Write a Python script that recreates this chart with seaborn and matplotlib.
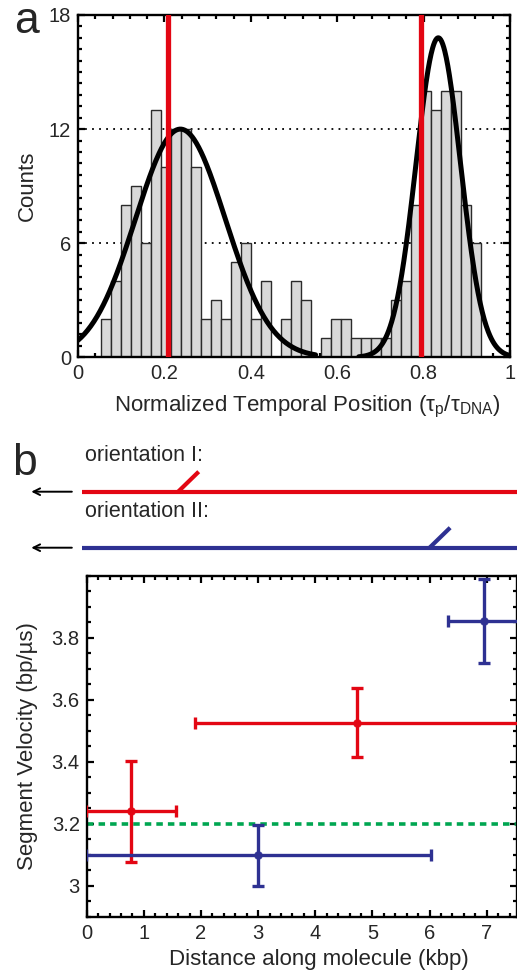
import numpy as np
import pandas as pd
import seaborn as sns
import matplotlib
matplotlib.use("Agg")
import matplotlib.pyplot as plt
from matplotlib.ticker import MultipleLocator

# --- Panel a: histogram of normalized temporal position ---
bin_start = 0.0525
bin_width = 0.02315
counts = [2, 4, 8, 9, 6, 13, 10, 12, 12, 10,
          2, 3, 2, 5, 6, 2, 4, 0, 2, 4,
          3, 0, 1, 2, 2, 1, 1, 1, 1, 3,
          4, 8, 14, 13, 14, 14, 8, 6]
fit_amp = [12.0, 16.8]
fit_mu = [0.237, 0.834]
fit_sigma = [0.104, 0.0515]
fit_range = [(0.0, 0.55), (0.65, 1.0)]
marker_pos = [0.208, 0.794]
a_xticks = [0, 0.2, 0.4, 0.6, 0.8, 1.0]
a_xticklabels = ["0", "0.2", "0.4", "0.6", "0.8", "1"]
a_yticks = [0, 6, 12, 18]
a_grid = [6, 12]

# --- Panel b: segment velocities ---
red_x = [0.78, 4.73]
red_y = [3.24, 3.525]
red_xerr = [0.79, 2.84]
red_yerr_lo = [0.165, 0.11]
red_yerr_hi = [0.162, 0.113]
blue_x = [3.0, 6.95]
blue_y = [3.10, 3.855]
blue_xerr = [3.02, 0.63]
blue_yerr_lo = [0.10, 0.135]
blue_yerr_hi = [0.095, 0.133]
ref_velocity = 3.2
b_xticks = [0, 1, 2, 3, 4, 5, 6, 7]
b_yticks = [3.0, 3.2, 3.4, 3.6, 3.8]
b_yticklabels = ["3", "3.2", "3.4", "3.6", "3.8"]

# schematic: site of the flap along each molecule (kbp)
orient_labels = ["orientation I:", "orientation II:"]
orient_site = [1.6, 6.0]
track_start = -0.08

RED = "#E30613"
BLUE = "#2E3192"
GREEN = "#00A651"

sns.set_style("ticks")
plt.rcParams["font.family"] = ["Liberation Sans", "DejaVu Sans"]
plt.rcParams["mathtext.fontset"] = "custom"
plt.rcParams["mathtext.rm"] = "Liberation Sans"
plt.rcParams["mathtext.it"] = "Liberation Sans:italic"

W, H = 517, 976
fig = plt.figure(figsize=(W / 100, H / 100), dpi=100)


def box(x0, y0, x1, y1):
    # pixel box (top-left origin) -> figure fraction
    return [x0 / W, 1 - y1 / H, (x1 - x0) / W, (y1 - y0) / H]


def style_axes(ax):
    for s in ax.spines.values():
        s.set_linewidth(1.7)
        s.set_color("black")
    ax.tick_params(which="both", direction="in", top=True, right=True,
                   width=1.6, color="black", labelsize=14.5, pad=5)
    ax.tick_params(which="major", length=5)
    ax.tick_params(which="minor", length=3)


# ---------------- panel a ----------------
ax_a = fig.add_axes(box(78, 15, 510, 357.3))
edges = list(bin_start + bin_width * np.arange(len(counts) + 1))
centers = [(edges[i] + edges[i + 1]) / 2 for i in range(len(counts))]
hist_df = pd.DataFrame({"pos": centers, "n": counts})
for g in a_grid:
    ax_a.axhline(g, color="black", lw=1.3, ls=(0, (1, 2.9)), zorder=0)
sns.histplot(data=hist_df, x="pos", weights="n", bins=edges, ax=ax_a,
             color="#D9D9D9", edgecolor="#2b2b2b", linewidth=1.0, alpha=1, zorder=2)
for amp, mu, sig, (lo, hi) in zip(fit_amp, fit_mu, fit_sigma, fit_range):
    xs = np.linspace(lo, hi, 300)
    ys = amp * np.exp(-(xs - mu) ** 2 / (2 * sig ** 2))
    sns.lineplot(x=xs, y=ys, ax=ax_a, color="black", lw=3.6, zorder=4)
for m in marker_pos:
    ax_a.axvline(m, color=RED, lw=3.8, zorder=5)
ax_a.set_xlim(0, 1)
ax_a.set_ylim(0, 18)
ax_a.set_xticks(a_xticks)
ax_a.set_xticklabels(a_xticklabels)
ax_a.set_yticks(a_yticks)
ax_a.xaxis.set_minor_locator(MultipleLocator(0.04))
ax_a.yaxis.set_minor_locator(MultipleLocator(0.6))
style_axes(ax_a)
ax_a.set_xlabel("Normalized Temporal Position (\u03c4$_\\mathrm{p}$/\u03c4$_\\mathrm{DNA}$)", fontsize=16)
ax_a.set_ylabel("Counts", fontsize=16)
ax_a.xaxis.set_label_coords(0.531, -0.108)
ax_a.yaxis.set_label_coords(-0.093, 0.5)

# ---------------- schematic ----------------
ax_s = fig.add_axes(box(86.7, 420, 517, 570))
ax_s.set_xlim(0, 7.53)
ax_s.set_ylim(570, 420)
ax_s.axis("off")
track_y = [491.7, 547.7]
for lab, site, ty, col in zip(orient_labels, orient_site, track_y, [RED, BLUE]):
    ax_s.plot([track_start, 7.53], [ty, ty], color=col, lw=3.0, clip_on=False,
              solid_capstyle="butt")
    ax_s.plot([site, site + 0.36], [ty, ty - 20], color=col, lw=3.0, clip_on=False,
              solid_capstyle="butt")
    ax_s.text(-0.03, ty - 31, lab, fontsize=15.5, ha="left", va="baseline")
    ax_s.annotate("", xy=(-0.97, ty), xytext=(-0.26, ty),
                  arrowprops=dict(arrowstyle="->", lw=1.4, color="black",
                                  mutation_scale=12, shrinkA=0, shrinkB=0),
                  annotation_clip=False)

# ---------------- panel b ----------------
ax_b = fig.add_axes(box(86.7, 575.7, 517, 916.7))
ax_b.axhline(ref_velocity, color=GREEN, lw=2.6, ls=(0, (1.8, 1.4)), zorder=1)
for xs, ys, xe, ylo, yhi, col in [(red_x, red_y, red_xerr, red_yerr_lo, red_yerr_hi, RED),
                                  (blue_x, blue_y, blue_xerr, blue_yerr_lo, blue_yerr_hi, BLUE)]:
    ax_b.errorbar(xs, ys, xerr=xe, yerr=[ylo, yhi], fmt="none", ecolor=col,
                  elinewidth=2.4, capsize=4.5, capthick=2.4, zorder=3)
    sns.scatterplot(x=xs, y=ys, ax=ax_b, color=col, s=32, edgecolor=col, zorder=4)
ax_b.set_xlim(0, 7.53)
ax_b.set_ylim(2.9, 4.0)
ax_b.set_xticks(b_xticks)
ax_b.set_yticks(b_yticks)
ax_b.set_yticklabels(b_yticklabels)
ax_b.xaxis.set_minor_locator(MultipleLocator(0.2))
ax_b.yaxis.set_minor_locator(MultipleLocator(0.05))
style_axes(ax_b)
ax_b.set_xlabel("Distance along molecule (kbp)", fontsize=16)
ax_b.set_ylabel("Segment Velocity (bp/\u00b5s)", fontsize=16)
ax_b.xaxis.set_label_coords(0.54, -0.096)
ax_b.yaxis.set_label_coords(-0.113, 0.5)

# panel letters
fig.text(14 / W, 1 - 33 / H, "a", fontsize=32, va="baseline")
fig.text(12 / W, 1 - 475 / H, "b", fontsize=32, va="baseline")

fig.savefig("out.png", dpi=100)
